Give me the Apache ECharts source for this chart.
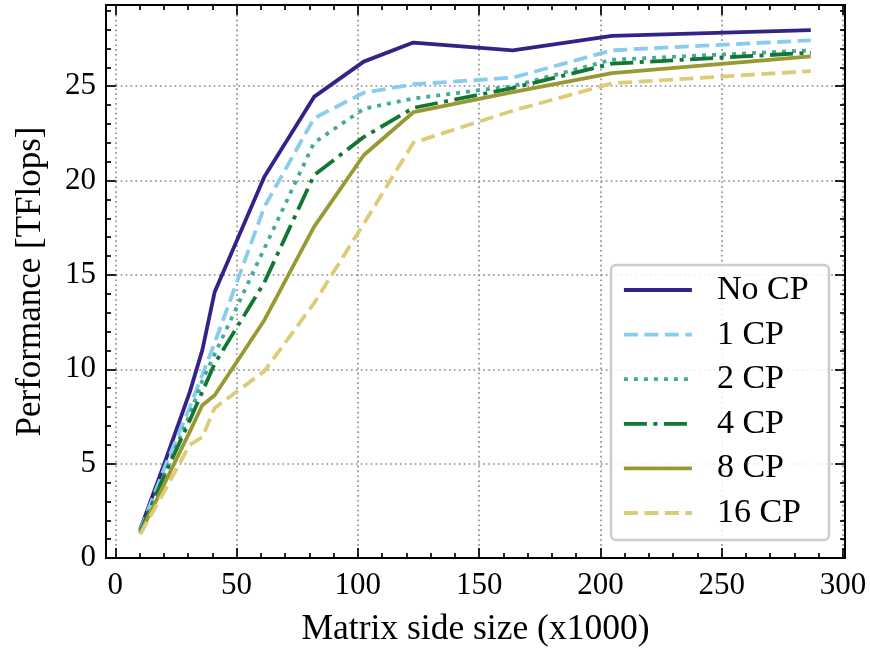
<!DOCTYPE html>
<html>
<head>
<meta charset="utf-8">
<script src="https://cdn.jsdelivr.net/npm/echarts@6/dist/echarts.min.js"></script>
<style>
html,body{margin:0;padding:0;background:#fff;}
#chart{width:870px;height:652px;}
</style>
</head>
<body>
<div id="chart"></div>
<script>
// ---- data ----
const xValues = [10.24, 20.48, 30.72, 35.84, 40.96, 61.44, 81.92, 102.4, 122.88, 163.84, 204.8, 286.72];
const seriesNames = ['No CP', '1 CP', '2 CP', '4 CP', '8 CP', '16 CP'];
const noCP  = [1.5, 5.1, 8.8, 11.0, 14.1, 20.2, 24.43, 26.3, 27.31, 26.9, 27.66, 27.97];
const cp1   = [1.45, 4.85, 8.0, 9.7, 11.4, 18.6, 23.3, 24.65, 25.1, 25.45, 26.9, 27.43];
const cp2   = [1.4, 4.5, 7.6, 9.4, 10.8, 16.4, 22.0, 23.8, 24.35, 25.0, 26.4, 26.9];
const cp4   = [1.35, 4.45, 7.3, 8.8, 10.3, 14.6, 20.28, 22.3, 23.85, 24.9, 26.19, 26.77];
const cp8   = [1.3, 4.0, 6.7, 8.09, 8.62, 12.6, 17.54, 21.34, 23.62, 24.68, 25.69, 26.58];
const cp16  = [1.25, 3.6, 6.0, 6.4, 7.95, 9.9, 13.5, 17.7, 22.0, 23.7, 25.15, 25.8];
const xMajorTicks = [0, 50, 100, 150, 200, 250, 300];
const xMinorTicks = [10, 20, 30, 40, 60, 70, 80, 90, 110, 120, 130, 140, 160, 170, 180, 190, 210, 220, 230, 240, 260, 270, 280, 290];
const yMajorTicks = [0, 5, 10, 15, 20, 25];
const yMinorTicks = [1, 2, 3, 4, 6, 7, 8, 9, 11, 12, 13, 14, 16, 17, 18, 19, 21, 22, 23, 24, 26, 27, 28, 29];
const xTitle = 'Matrix side size (x1000)';
const yTitle = 'Performance [TFlops]';

// ---- styles ----
const FONT = "'Liberation Serif', 'DejaVu Serif', serif";
const colors = ['#332288', '#88CCEE', '#44AA99', '#117733', '#999933', '#DDCC77'];
const dashes = ['solid', [14, 6.5], [4, 6], [23, 6.5, 4, 6.5], 'solid', [14, 6.5]];
const allValues = [noCP, cp1, cp2, cp4, cp8, cp16];
const X_MIN = -3.85, X_MAX = 300.85, Y_MIN = 0, Y_MAX = 29.3;

function xAx(pos, ticks, len, labels, grid) {
  return {
    type: 'value', min: X_MIN, max: X_MAX, position: pos,
    axisLine: {show: true, onZero: false, lineStyle: {color: '#000', width: 2}},
    axisTick: {show: true, inside: true, length: len, customValues: ticks, lineStyle: {color: '#000', width: 1.7}},
    axisLabel: {show: labels, customValues: ticks, color: '#000', fontFamily: FONT, fontSize: 31, margin: 12},
    splitLine: {show: grid, lineStyle: {color: '#8a8a8a', width: 1.6, type: [1.7, 3.2]}},
    minorTick: {show: false}, minorSplitLine: {show: false}
  };
}
function yAx(pos, ticks, len, labels, grid) {
  return {
    type: 'value', min: Y_MIN, max: Y_MAX, position: pos,
    axisLine: {show: true, onZero: false, lineStyle: {color: '#000', width: 2}},
    axisTick: {show: true, inside: true, length: len, customValues: ticks, lineStyle: {color: '#000', width: 1.7}},
    axisLabel: {show: labels, customValues: ticks, color: '#000', fontFamily: FONT, fontSize: 31, margin: 10},
    splitLine: {show: grid, lineStyle: {color: '#8a8a8a', width: 1.6, type: [1.7, 3.2]}},
    minorTick: {show: false}, minorSplitLine: {show: false}
  };
}

const xAxes = [
  xAx('bottom', xMajorTicks, 10, true, true),
  xAx('top', xMajorTicks, 10, false, false),
  xAx('bottom', xMinorTicks, 5, false, false),
  xAx('top', xMinorTicks, 5, false, false)
];
Object.assign(xAxes[0], {name: xTitle, nameLocation: 'middle', nameGap: 54,
  nameTextStyle: {color: '#000', fontFamily: FONT, fontSize: 35.5}});
const yAxes = [
  yAx('left', yMajorTicks, 10, true, true),
  yAx('right', yMajorTicks, 10, false, false),
  yAx('left', yMinorTicks, 5, false, false),
  yAx('right', yMinorTicks, 5, false, false)
];
Object.assign(yAxes[0], {name: yTitle, nameLocation: 'middle', nameGap: 58,
  nameTextStyle: {color: '#000', fontFamily: FONT, fontSize: 35}});

const series = seriesNames.map((name, i) => ({
  name: name,
  type: 'line',
  xAxisIndex: 0, yAxisIndex: 0,
  symbol: 'none',
  data: xValues.map((x, j) => [x, allValues[i][j]]),
  lineStyle: {color: colors[i], width: 3.8, type: dashes[i], cap: 'butt', join: 'round'},
  itemStyle: {color: colors[i]},
  z: 2,
  animation: false
}));

const chart = echarts.init(document.getElementById('chart'), null, {renderer: 'canvas'});
chart.setOption({
  animation: false,
  backgroundColor: '#fff',
  grid: {left: 106, right: 25, top: 5, bottom: 94, containLabel: false, outerBoundsMode: 'none'},
  xAxis: xAxes,
  yAxis: yAxes,
  legend: {
    orient: 'vertical', left: 622, top: 273, padding: 0,
    itemWidth: 68, itemHeight: 14, itemGap: 10.6,
    data: seriesNames,
    itemStyle: {opacity: 0},
    lineStyle: {width: 3.8},
    textStyle: {color: '#000', fontFamily: FONT, fontSize: 34, lineHeight: 34, padding: [0, 0, 0, 20]},
    z: 5
  },
  graphic: [{
    type: 'rect', z: 3,
    shape: {x: 611, y: 265, width: 218, height: 275, r: 5},
    style: {fill: 'rgba(255,255,255,0.85)', stroke: '#cccccc', lineWidth: 2.5}
  }],
  series: series
});
</script>
</body>
</html>
